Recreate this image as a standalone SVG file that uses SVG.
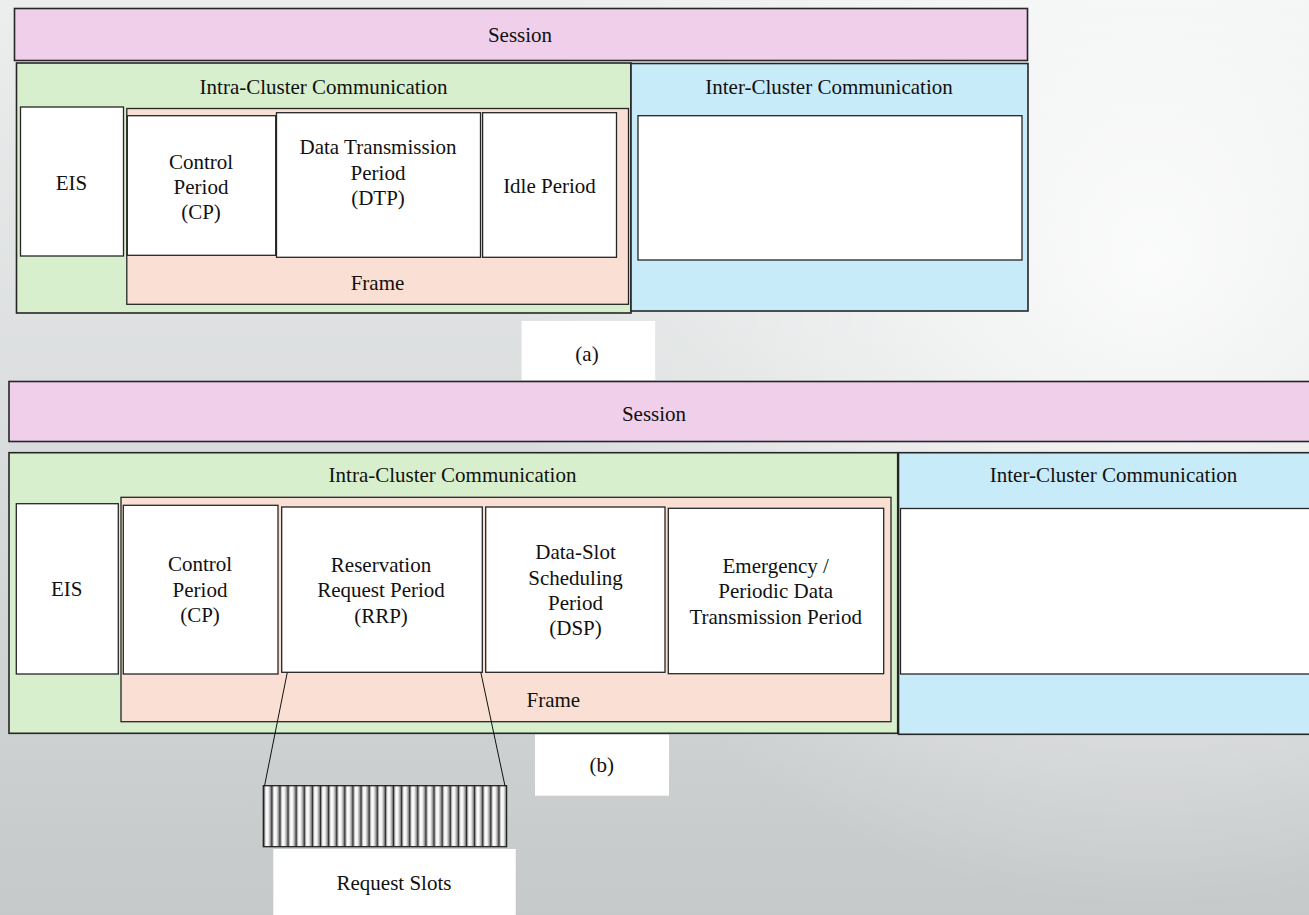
<svg xmlns="http://www.w3.org/2000/svg" width="1309" height="915" viewBox="0 0 1309 915">
<defs>
<linearGradient id="bgLin" x1="0" y1="0" x2="0" y2="1">
<stop offset="0" stop-color="#eceeee"/>
<stop offset="1" stop-color="#c6c9ca"/>
</linearGradient>
<radialGradient id="bgRad" gradientUnits="userSpaceOnUse" cx="1150" cy="260" r="650">
<stop offset="0" stop-color="#ffffff" stop-opacity="0.85"/>
<stop offset="1" stop-color="#ffffff" stop-opacity="0"/>
</radialGradient>
<linearGradient id="slotGrad" x1="0" y1="0" x2="1" y2="0">
<stop offset="0" stop-color="#555"/>
<stop offset="0.15" stop-color="#9a9a9a"/>
<stop offset="0.35" stop-color="#ffffff"/>
<stop offset="0.6" stop-color="#f4f4f4"/>
<stop offset="0.82" stop-color="#b0b0b0"/>
<stop offset="1" stop-color="#666"/>
</linearGradient>
<pattern id="slots" patternUnits="userSpaceOnUse" x="263.3" y="0" width="8.11" height="915">
<rect x="0" y="0" width="8.11" height="915" fill="url(#slotGrad)"/>
<line x1="0.5" y1="0" x2="0.5" y2="915" stroke="#2a2a2a" stroke-width="1"/>
</pattern>
</defs>
<style>
.box{stroke:#262626;stroke-width:1.3}
.outer{stroke:#262626;stroke-width:1.6}
.session{fill:#efcfea}
.intra{fill:#d8efce}
.inter{fill:#c8ebf9}
.frame{fill:#fae0d4}
.white{fill:#ffffff}
.lbl{fill:#ffffff;stroke:none}
.conn{stroke:#111;stroke-width:1;fill:none}
</style>
<rect x="0" y="0" width="1309" height="915" fill="url(#bgLin)"/>
<rect x="0" y="0" width="1309" height="915" fill="url(#bgRad)"/>
<g font-family="Liberation Serif, Times New Roman, DejaVu Serif, serif" font-size="21" fill="#111" text-anchor="middle">

<!-- (a) -->
<g id="a-session"><rect class="session outer" x="14.5" y="8.5" width="1013" height="52"/><text x="520" y="42">Session</text></g>
<g id="a-intra"><rect class="intra outer" x="16.5" y="63" width="614.5" height="250"/><text x="323.5" y="94">Intra-Cluster Communication</text></g>
<g id="a-inter"><rect class="inter outer" x="631" y="63.5" width="397" height="247.5"/><text x="829" y="94">Inter-Cluster Communication</text></g>
<g id="a-inter-box"><rect class="white box" x="638" y="115.7" width="384" height="144.3"/></g>
<g id="a-eis"><rect class="white box" x="20.5" y="107" width="103" height="149"/><text x="71.5" y="190">EIS</text></g>
<g id="a-frame"><rect class="frame box" x="126.8" y="108.5" width="501.7" height="195.8"/><text x="377.5" y="290">Frame</text></g>
<g id="a-cp"><rect class="white box" x="127.3" y="115.7" width="148.4" height="139.6"/><text x="201" y="168.5">Control</text><text x="201" y="193.5">Period</text><text x="201" y="218.5">(CP)</text></g>
<g id="a-dtp"><rect class="white box" x="276.5" y="112.7" width="204" height="144.6"/><text x="378" y="154">Data Transmission</text><text x="378" y="180">Period</text><text x="378" y="205">(DTP)</text></g>
<g id="a-idle"><rect class="white box" x="482.6" y="112.7" width="133.9" height="144.6"/><text x="549.5" y="193">Idle Period</text></g>
<g id="a-label"><rect class="lbl" x="521.6" y="321" width="133.6" height="59"/><text x="587" y="361">(a)</text></g>

<!-- (b) -->
<g id="b-session"><rect class="session outer" x="9" y="381.5" width="1310" height="60"/><text x="654" y="421">Session</text></g>
<g id="b-intra"><rect class="intra outer" x="9" y="452.7" width="888.7" height="280.6"/><text x="452.5" y="482.3">Intra-Cluster Communication</text></g>
<g id="b-inter"><rect class="inter outer" x="898.5" y="452.7" width="420" height="281.6"/><text x="1113.5" y="482.3">Inter-Cluster Communication</text></g>
<g id="b-inter-box"><rect class="white box" x="900.5" y="508.5" width="418" height="165.5"/></g>
<g id="b-eis"><rect class="white box" x="16.3" y="503.7" width="102" height="170.3"/><text x="66.7" y="596">EIS</text></g>
<g id="b-frame"><rect class="frame box" x="121" y="497.3" width="770" height="224.4"/><text x="553.3" y="706.7">Frame</text></g>
<g id="b-cp"><rect class="white box" x="123.3" y="505.3" width="154.7" height="168.7"/><text x="200" y="571">Control</text><text x="200" y="596.5">Period</text><text x="200" y="621.7">(CP)</text></g>
<g id="b-rrp"><rect class="white box" x="281.7" y="507" width="200.6" height="165.3"/><text x="381" y="571.7">Reservation</text><text x="381" y="597">Request Period</text><text x="381" y="622.5">(RRP)</text></g>
<g id="b-dsp"><rect class="white box" x="485.7" y="507" width="179.3" height="165.3"/><text x="575.5" y="559">Data-Slot</text><text x="575.5" y="584.5">Scheduling</text><text x="575.5" y="610">Period</text><text x="575.5" y="635">(DSP)</text></g>
<g id="b-emergency"><rect class="white box" x="668.3" y="508.3" width="215.4" height="165.4"/><text x="775.7" y="572.7">Emergency /</text><text x="775.7" y="598.3">Periodic Data</text><text x="775.7" y="623.5">Transmission Period</text></g>
<g id="b-label"><rect class="lbl" x="535" y="734.7" width="134" height="61"/><text x="601.7" y="771.7">(b)</text></g>
<g id="request-slots"><rect x="263.3" y="785.7" width="243.3" height="61" fill="url(#slots)" stroke="#222" stroke-width="1.3"/></g>
<g id="request-slots-label"><rect class="lbl" x="273.3" y="849" width="242.4" height="66"/><text x="394" y="890">Request Slots</text></g>
</g>
<g id="connectors">
<line class="conn" x1="287.3" y1="672.3" x2="264.5" y2="786"/>
<line class="conn" x1="480.8" y1="672.3" x2="505" y2="786"/>
</g>
</svg>
